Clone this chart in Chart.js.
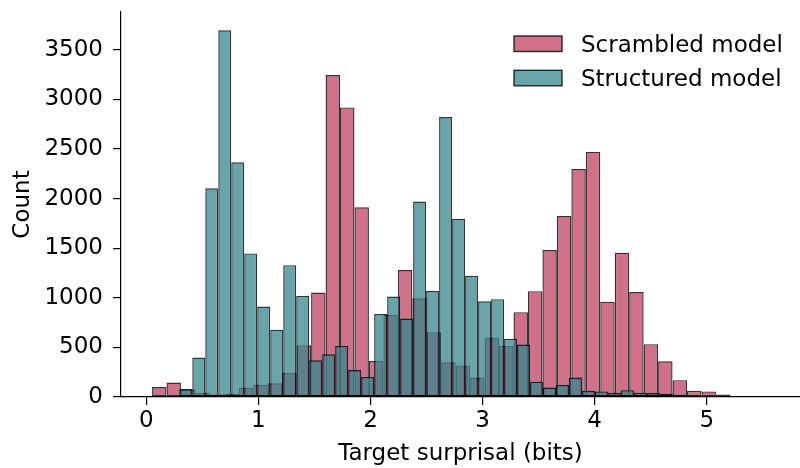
<!DOCTYPE html>
<html>
<head>
<meta charset="utf-8">
<title>Target surprisal</title>
<script src="https://cdn.jsdelivr.net/npm/chart.js@4.4.0/dist/chart.umd.min.js"></script>
<style>
  html, body { margin: 0; padding: 0; background: #fff; }
  #wrap { position: relative; width: 800px; height: 468px; }
</style>
</head>
<body>
<div id="wrap"><canvas id="myChart"></canvas></div>
<script>
// histogram bins (x in bits)
const scrambledStart = 0.051;
const scrambledWidth = 0.1290;
const scrambledCounts = [101, 145, 75, 44, 24, 34, 94, 124, 138, 242,
    522, 1053, 3245, 2918, 1912, 362, 828, 1279, 995, 653,
    350, 318, 196, 596, 515, 855, 1067, 1481, 1824, 2298,
    2470, 959, 1454, 1057, 532, 360, 170, 62, 56, 26];

const structuredStart = 0.294;
const structuredWidth = 0.1159;
const structuredCounts = [80, 397, 2103, 3695, 2366, 1447, 912, 678, 1329, 1020,
    370, 430, 515, 272, 202, 836, 1012, 791, 1969, 1068,
    2821, 1797, 1222, 964, 986, 586, 528, 154, 95, 122,
    196, 62, 56, 42, 69, 44, 40, 32, 23, 17,
    12, 8, 6, 4, 3];

const seriesNames = ['Scrambled model', 'Structured model'];
const xTicks = [0, 1, 2, 3, 4, 5];
const yTicks = [0, 500, 1000, 1500, 2000, 2500, 3000, 3500];

const pinkFill = 'rgba(192, 64, 98, 0.75)';
const tealFill = 'rgba(54, 135, 142, 0.75)';
const edge = 'rgba(0, 0, 0, 0.8)';

function toBins(start, width, counts) {
    return counts.map((c, i) => ({ x: start + (i + 0.5) * width, y: c }));
}

Chart.defaults.font.family = "'DejaVu Sans', sans-serif";
Chart.defaults.font.size = 23;
Chart.defaults.color = '#000';

// legend drawn inside the plot, top right
const cornerLegend = {
    id: 'cornerLegend',
    afterDraw(chart) {
        const ctx = chart.ctx;
        ctx.save();
        ctx.font = "23px 'DejaVu Sans', sans-serif";
        ctx.textBaseline = 'alphabetic';
        ctx.textAlign = 'left';
        chart.data.datasets.forEach((ds, i) => {
            const y = 36 + i * 34.3;
            ctx.fillStyle = ds.backgroundColor;
            ctx.fillRect(514, y, 48, 15.5);
            ctx.strokeStyle = edge;
            ctx.lineWidth = 1.4;
            ctx.strokeRect(514, y, 48, 15.5);
            ctx.fillStyle = '#000';
            ctx.fillText(ds.label, 581, y + 15.7);
        });
        ctx.restore();
    }
};

const axisGrid = { display: true, drawOnChartArea: false, drawTicks: true, tickLength: 8, color: '#000', lineWidth: 1.2, offset: false };
const axisBorder = { display: true, color: '#000', width: 1.2 };

const barStyle = {
    borderColor: edge,
    borderWidth: 1.4,
    borderSkipped: false,
    barPercentage: 1,
    categoryPercentage: 1,
    inflateAmount: 0,
    grouped: false
};

const ctx = document.getElementById('myChart').getContext('2d');
new Chart(ctx, {
    type: 'bar',
    data: {
        datasets: [{
            ...barStyle,
            label: seriesNames[0],
            data: toBins(scrambledStart, scrambledWidth, scrambledCounts),
            xAxisID: 'x',
            backgroundColor: pinkFill,
            order: 1
        }, {
            ...barStyle,
            label: seriesNames[1],
            data: toBins(structuredStart, structuredWidth, structuredCounts),
            xAxisID: 'x2',
            backgroundColor: tealFill,
            order: 0
        }]
    },
    options: {
        responsive: true,
        maintainAspectRatio: false,
        animation: false,
        layout: { padding: { top: 12, right: 0, left: 0, bottom: 0 } },
        plugins: {
            legend: { display: false },
            tooltip: { enabled: false }
        },
        scales: {
            x: {
                type: 'linear',
                min: -0.226,
                max: 5.832,
                offset: false,
                grid: axisGrid,
                border: axisBorder,
                afterBuildTicks: s => { s.ticks = xTicks.map(v => ({ value: v })); },
                afterFit: s => { s.height = 71; s.paddingLeft = 0; s.paddingRight = 0; },
                ticks: { padding: 2, maxRotation: 0, autoSkip: false, callback: v => String(v) },
                title: { display: true, text: 'Target surprisal (bits)', padding: { top: 0, bottom: 0 } }
            },
            x2: {
                type: 'linear',
                min: -0.226,
                max: 5.832,
                offset: false,
                display: false
            },
            y: {
                min: 0,
                max: 3880,
                grid: axisGrid,
                border: axisBorder,
                afterBuildTicks: s => { s.ticks = yTicks.map(v => ({ value: v })); },
                afterFit: s => { s.width = 121; s.paddingTop = 0; s.paddingBottom = 0; },
                ticks: { padding: 10, autoSkip: false, callback: v => String(v) },
                title: { display: true, text: 'Count', padding: { top: 9, bottom: 0 } }
            }
        }
    },
    plugins: [cornerLegend]
});
</script>
</body>
</html>
